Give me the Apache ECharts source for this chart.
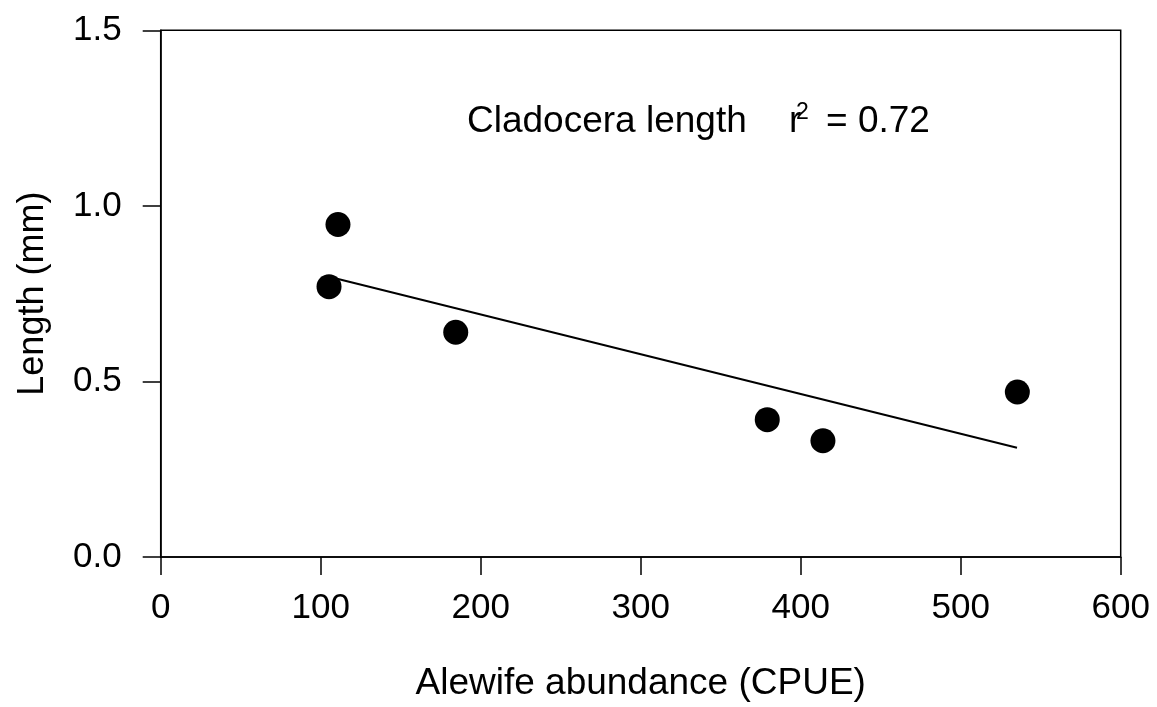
<!DOCTYPE html>
<html>
<head>
<meta charset="utf-8">
<script src="https://cdn.jsdelivr.net/npm/echarts@6/dist/echarts.min.js"></script>
<style>
  html, body { margin: 0; padding: 0; background: #fff; }
  #main { width: 1157px; height: 707px; }
</style>
</head>
<body>
<div id="main"></div>
<script>
// cladocera length vs alewife abundance
var abundance = [105.2, 110.8, 184.4, 379.1, 413.9, 535.4];
var lengthMm = [0.770, 0.947, 0.640, 0.391, 0.331, 0.470];
// fitted line end points
var fitX = [105.2, 535.2];
var fitY = [0.798, 0.311];
var xTicks = [0, 100, 200, 300, 400, 500, 600];
var yTicks = [0.0, 0.5, 1.0, 1.5];

var points = abundance.map(function (x, i) { return [x, lengthMm[i]]; });
var fitLine = fitX.map(function (x, i) { return [x, fitY[i]]; });

var font = "'Liberation Sans', Arial, sans-serif";
var myChart = echarts.init(document.getElementById("main"));

var option = {
  backgroundColor: "#fff",
  animation: false,
  grid: {
    left: 160.7,
    right: 36.3,
    top: 30.3,
    bottom: 149.6,
    show: true,
    borderColor: "#000",
    borderWidth: 1.5
  },
  xAxis: {
    type: "value",
    min: xTicks[0],
    max: xTicks[xTicks.length - 1],
    interval: 100,
    name: "Alewife abundance (CPUE)",
    nameLocation: "middle",
    nameGap: 108,
    nameTextStyle: { color: "#000", fontSize: 37, fontFamily: font },
    axisLine: { show: true, lineStyle: { color: "#000", width: 1.5 } },
    axisTick: { show: true, length: 18, lineStyle: { color: "#000", width: 1.5 } },
    axisLabel: { color: "#000", fontSize: 35, fontFamily: font, margin: 34 },
    splitLine: { show: false }
  },
  yAxis: {
    type: "value",
    min: yTicks[0],
    max: yTicks[yTicks.length - 1],
    interval: 0.5,
    name: "Length (mm)",
    nameLocation: "middle",
    nameGap: 110,
    nameTextStyle: { color: "#000", fontSize: 36, fontFamily: font },
    axisLine: { show: true, lineStyle: { color: "#000", width: 1.5 } },
    axisTick: { show: true, length: 18, lineStyle: { color: "#000", width: 1.5 } },
    axisLabel: {
      color: "#000", fontSize: 35, fontFamily: font, margin: 39,
      formatter: function (v) { return v.toFixed(1); }
    },
    splitLine: { show: false }
  },
  graphic: [
    {
      type: "text", left: 467, top: 103,
      style: { text: "Cladocera length", fill: "#000", fontSize: 37, fontFamily: font }
    },
    {
      type: "text", left: 789, top: 103,
      style: { text: "r", fill: "#000", fontSize: 37, fontFamily: font }
    },
    {
      type: "text", left: 796, top: 101,
      style: { text: "2", fill: "#000", fontSize: 23, fontFamily: font }
    },
    {
      type: "text", left: 826, top: 103,
      style: { text: "= 0.72", fill: "#000", fontSize: 37, fontFamily: font }
    }
  ],
  series: [
    {
      type: "line",
      data: fitLine,
      symbol: "none",
      lineStyle: { color: "#000", width: 2 },
      z: 2
    },
    {
      type: "scatter",
      data: points,
      symbol: "circle",
      symbolSize: 25,
      itemStyle: { color: "#000", opacity: 1 },
      z: 3
    }
  ]
};

myChart.setOption(option);
</script>
</body>
</html>
